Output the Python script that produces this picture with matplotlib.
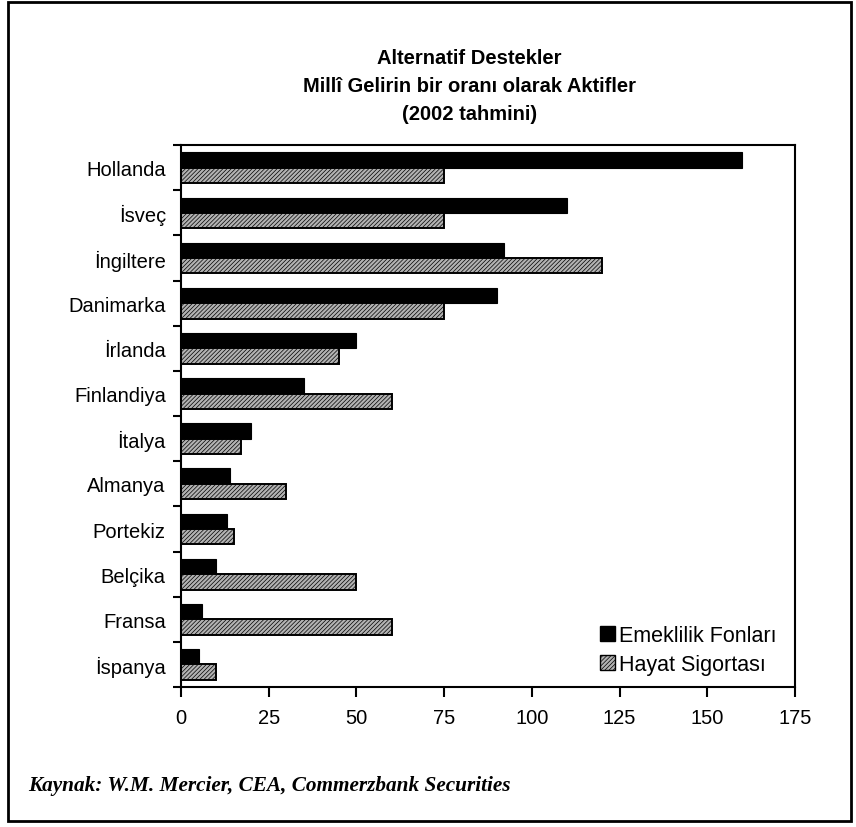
import matplotlib
matplotlib.use("Agg")
import matplotlib.pyplot as plt
import matplotlib.patches as mpatches
import numpy as np

# ── veri ─────────────────────────────────────────────────────────────────────
ulkeler = ["Hollanda", "İsveç", "İngiltere", "Danimarka", "İrlanda", "Finlandiya",
           "İtalya", "Almanya", "Portekiz", "Belçika", "Fransa", "İspanya"]
emeklilik = [160, 110, 92, 90, 50, 35, 20, 14, 13, 10, 6, 5]
hayat     = [75, 75, 120, 75, 45, 60, 17, 30, 15, 50, 60, 10]
x_ticks   = [0, 25, 50, 75, 100, 125, 150, 175]

SANS = ["Liberation Sans", "DejaVu Sans"]
GRAY_FACE = "#b2b2b2"

plt.rcParams["hatch.linewidth"] = 0.5
plt.rcParams["hatch.color"] = "#303030"

fig = plt.figure(figsize=(8.56, 8.28), dpi=100)
ax = fig.add_axes([0.2115, 0.169, 0.7172, 0.6545])

n = len(ulkeler)
y = np.arange(n)
h = 0.34

ax.barh(y - h / 2, emeklilik, h, color="black", edgecolor="black", linewidth=0.8)
ax.barh(y + h / 2, hayat, h, color=GRAY_FACE, hatch="////////",
        edgecolor="black", linewidth=1.4)

ax.set_xlim(0, 175)
ax.set_ylim(n - 0.5, -0.5)

# kategori sınırlarında tik çizgileri
ax.set_yticks(y)
ax.set_yticklabels(ulkeler, fontsize=14.5, family=SANS)
ax.tick_params(axis="y", which="major", length=0, pad=11)
ax.set_yticks(np.arange(n + 1) - 0.5, minor=True)
ax.tick_params(axis="y", which="minor", length=6, width=1.5, direction="out")

ax.set_xticks(x_ticks)
ax.set_xticklabels([str(t) for t in x_ticks], fontsize=14.5, family=SANS)
ax.tick_params(axis="x", length=7, width=1.5, direction="out", pad=8)

for s in ax.spines.values():
    s.set_linewidth(1.5)

handles = [
    mpatches.Patch(facecolor="black", edgecolor="black", label="Emeklilik Fonları"),
    mpatches.Patch(facecolor=GRAY_FACE, hatch="////////", edgecolor="black",
                   linewidth=1.0, label="Hayat Sigortası"),
]
ax.legend(handles=handles, loc="lower right", bbox_to_anchor=(0.99, 0.0),
          frameon=False, prop={"family": SANS, "size": 15.5},
          handlelength=0.7, handleheight=0.7, handletextpad=0.2,
          labelspacing=0.4, borderaxespad=0.15)

# başlık
fig.text(0.548, 0.896, "Alternatif Destekler\nMillî Gelirin bir oranı olarak Aktifler\n(2002 tahmini)",
         ha="center", va="center", fontsize=14.5, fontweight="bold",
         family=SANS, linespacing=1.6)

# kaynak
fig.text(0.033, 0.051, "Kaynak: W.M. Mercier, CEA, Commerzbank Securities",
         ha="left", va="center", fontsize=15.3, fontweight="bold", style="italic",
         family=["Liberation Serif", "DejaVu Serif"])

# dış çerçeve
fig.patches.append(mpatches.Rectangle((0.0095, 0.007), 0.985, 0.989,
                                      transform=fig.transFigure, fill=False,
                                      edgecolor="black", linewidth=2))

fig.savefig("out.png", dpi=100)
